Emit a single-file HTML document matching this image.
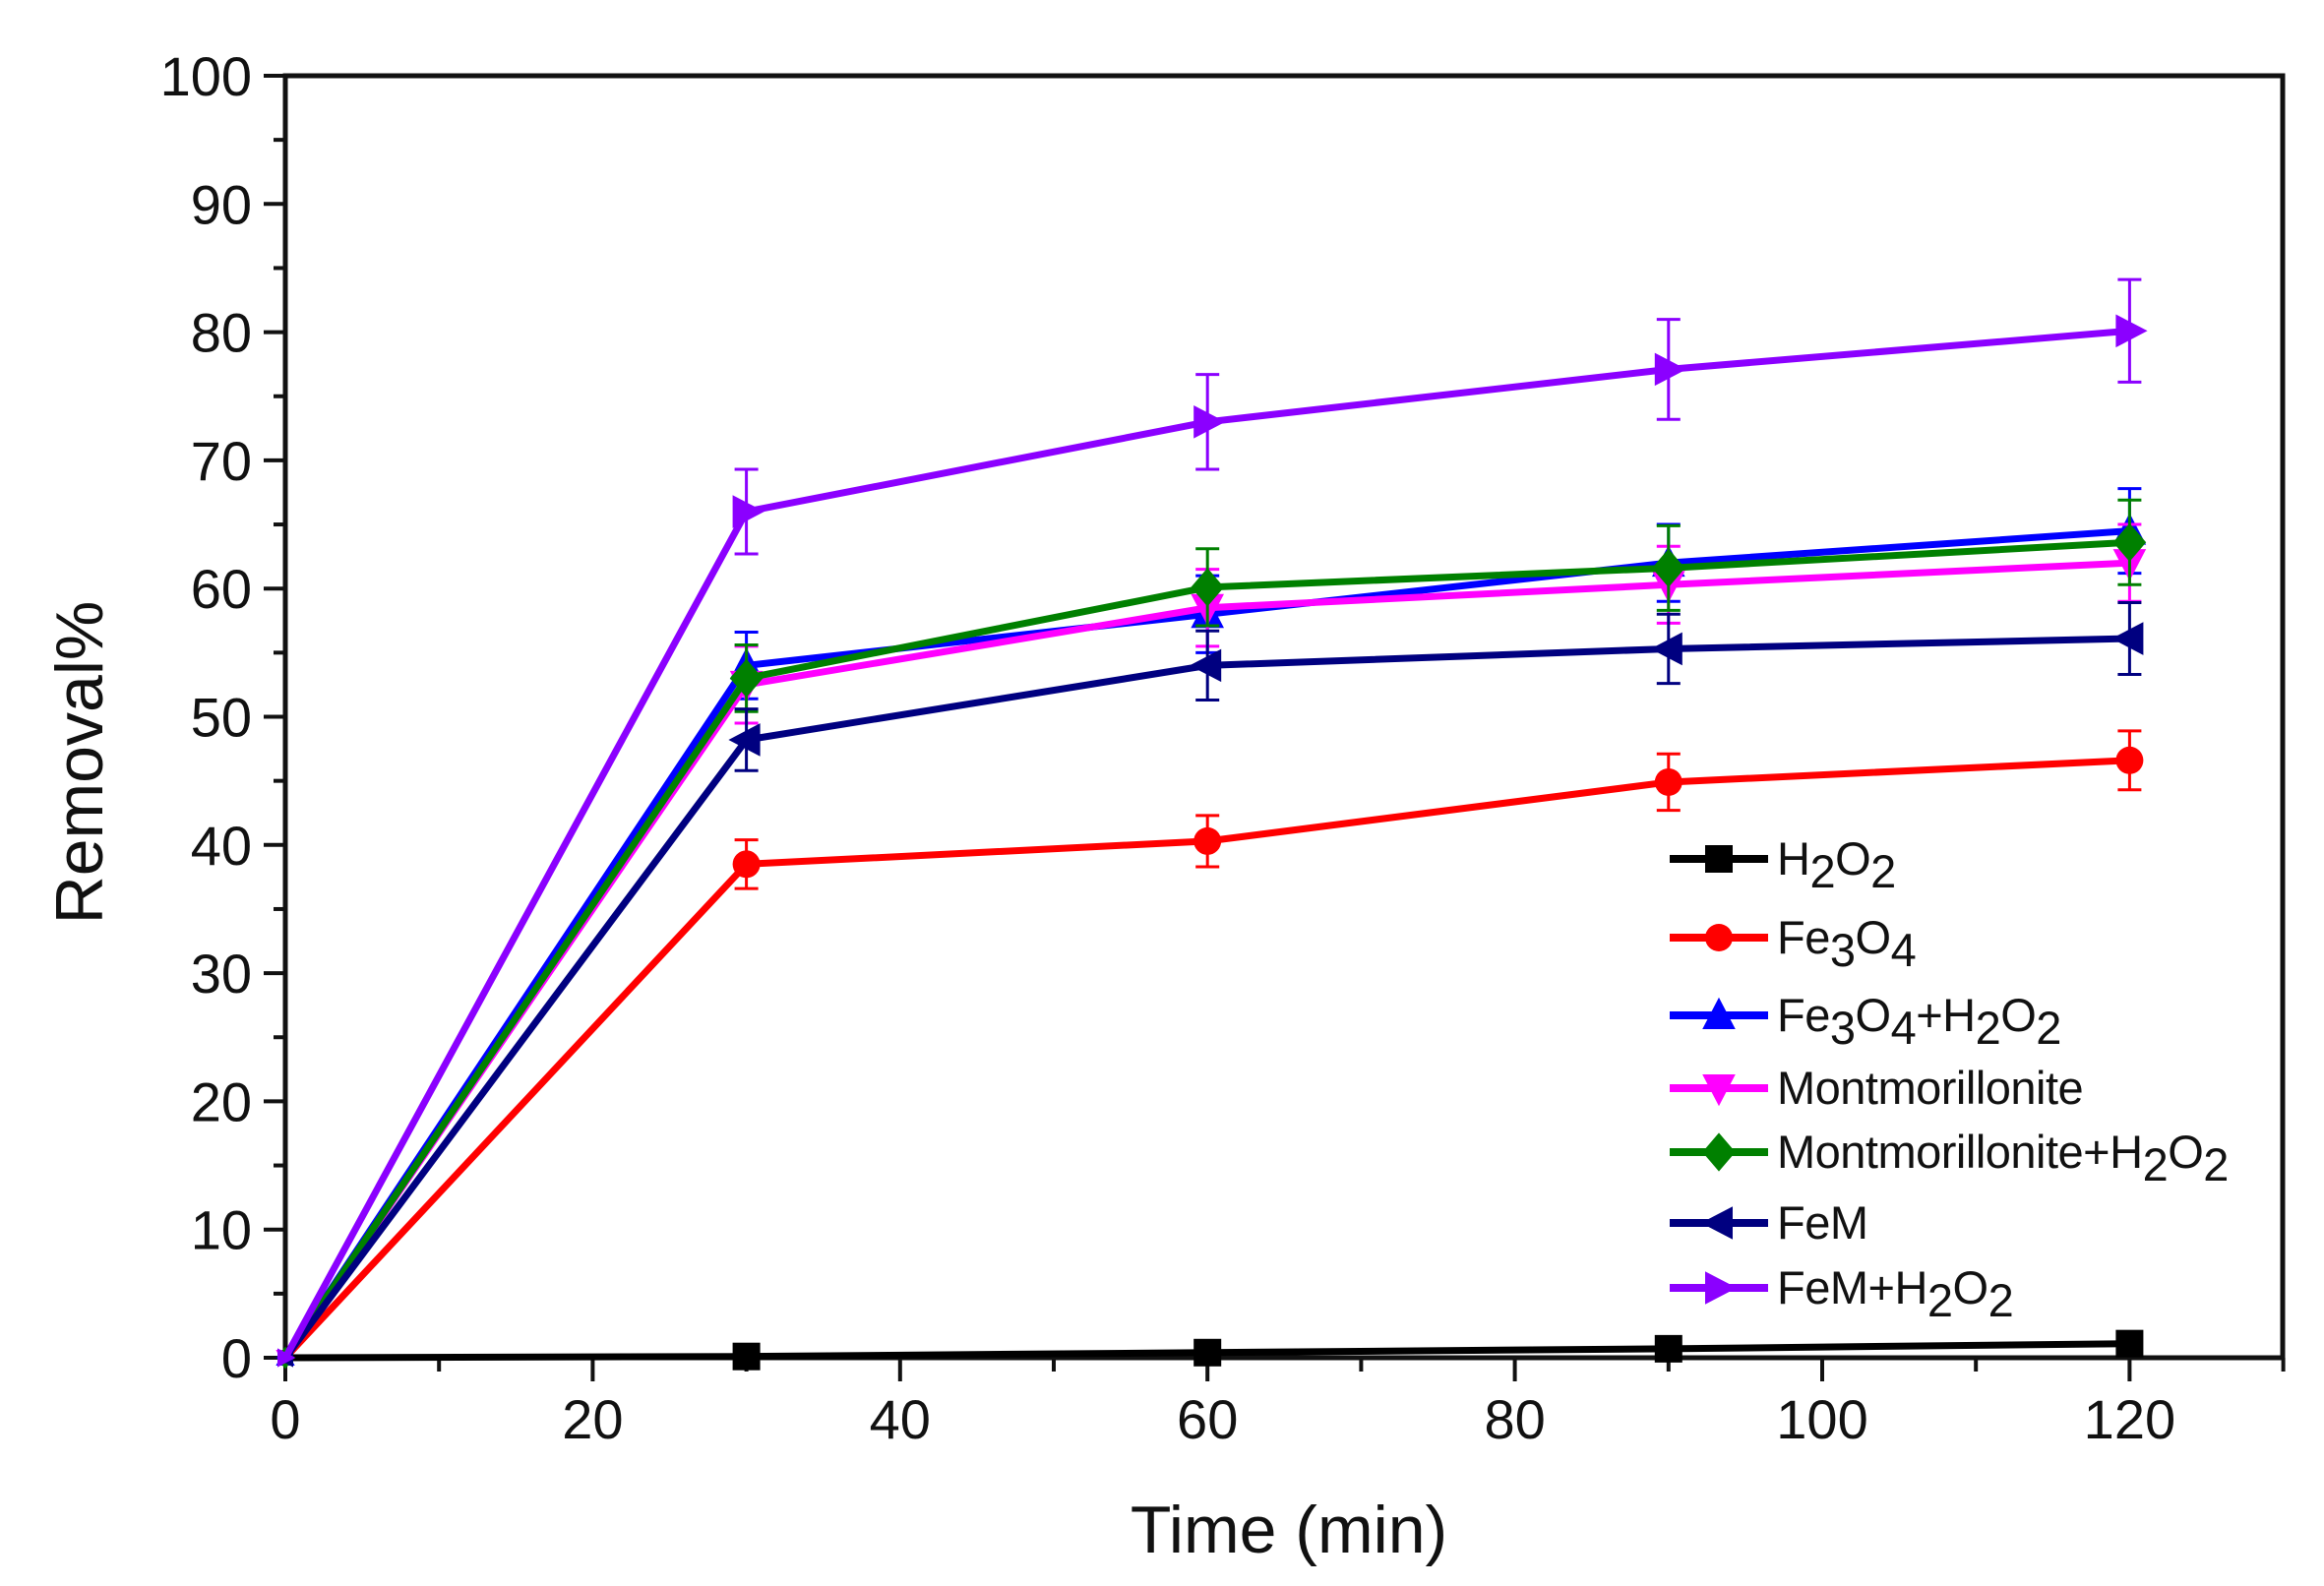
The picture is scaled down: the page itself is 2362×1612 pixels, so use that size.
<!DOCTYPE html>
<html><head><meta charset="utf-8"><style>
html,body{margin:0;padding:0;background:#fff;}
svg{display:block;font-family:"Liberation Sans",Arial,sans-serif;}
</style></head><body>
<svg id="s" width="2362" height="1612" viewBox="0 0 2362 1612" xmlns="http://www.w3.org/2000/svg">
<rect width="2362" height="1612" fill="#fff"/>
<g id="ax"></g><g id="dat"></g><g id="leg"></g>
<text x="1310" y="1578" font-size="68" text-anchor="middle" fill="#111">Time (min)</text>
<text transform="translate(104,775) rotate(-90)" font-size="68" text-anchor="middle" fill="#111">Removal%</text>
</svg>
<script>
var NS="http://www.w3.org/2000/svg";
function el(p,t,a,txt){var e=document.createElementNS(NS,t);for(var k in a)e.setAttribute(k,a[k]);if(txt!==undefined)e.textContent=txt;p.appendChild(e);return e;}
var X0=290,XS=15.62,Y0=1380,YS=13.03,XR=2320,YT=77;
function X(v){return X0+v*XS;}function Y(v){return Y0-v*YS;}
var ax=document.getElementById('ax');
el(ax,'rect',{x:X0,y:YT,width:XR-X0,height:Y0-YT,fill:'none',stroke:'#111','stroke-width':5});
for(var v=0;v<=100;v+=5){var y=Y(v);var maj=v%10==0;el(ax,'line',{x1:X0-(maj?22:12),x2:X0,y1:y,y2:y,stroke:'#111','stroke-width':4});
 if(maj)el(ax,'text',{x:X0-34,y:y+20,'font-size':56,'text-anchor':'end',fill:'#111'},String(v));}
for(var v=0;v<=130;v+=10){var x=X(v);var maj=v%20==0;el(ax,'line',{x1:x,x2:x,y1:Y0,y2:Y0+(maj?24:14),stroke:'#111','stroke-width':4});
 if(maj&&v<=120)el(ax,'text',{x:x,y:Y0+82,'font-size':56,'text-anchor':'middle',fill:'#111'},String(v));}
var T=[0,30,60,90,120];
var S=[
 {c:'#000',m:'sq',v:[0,0.1,0.4,0.7,1.1],e:[0,0,0,0,0]},
 {c:'#ff0000',m:'ci',v:[0,38.5,40.3,44.9,46.6],e:[0,1.9,2,2.2,2.3]},
 {c:'#0000ff',m:'tu',v:[0,54,58,62,64.5],e:[0,2.6,3,3,3.3]},
 {c:'#ff00ff',m:'td',v:[0,52.5,58.5,60.3,62],e:[0,3,3,3,3]},
 {c:'#008000',m:'di',v:[0,53,60.1,61.6,63.6],e:[0,2.6,3,3.3,3.3]},
 {c:'#000080',m:'tl',v:[0,48.2,54,55.3,56.1],e:[0,2.4,2.7,2.7,2.8]},
 {c:'#8b00ff',m:'tr',v:[0,66,73,77.1,80.1],e:[0,3.3,3.7,3.9,4]}
];
function mk(g,m,x,y,c,r){r=r||13;
 if(m=='sq')el(g,'rect',{x:x-r,y:y-r,width:2*r,height:2*r,fill:c});
 else if(m=='ci')el(g,'circle',{cx:x,cy:y,r:r,fill:c});
 else{var p;
  if(m=='tu')p=[[x,y-r*1.3],[x+r*1.2,y+r],[x-r*1.2,y+r]];
  if(m=='td')p=[[x,y+r*1.3],[x+r*1.2,y-r],[x-r*1.2,y-r]];
  if(m=='tl')p=[[x-r*1.3,y],[x+r,y-r*1.2],[x+r,y+r*1.2]];
  if(m=='tr')p=[[x+r*1.3,y],[x-r,y-r*1.2],[x-r,y+r*1.2]];
  if(m=='di')p=[[x,y-r*1.4],[x+r*1.2,y],[x,y+r*1.4],[x-r*1.2,y]];
  el(g,'polygon',{points:p.map(function(q){return q.join(',')}).join(' '),fill:c});}}
var d=document.getElementById('dat');
S.forEach(function(s){
 var pts=T.map(function(t,i){return X(t)+','+Y(s.v[i]);}).join(' ');
 for(var i=1;i<5;i++){if(!s.e[i])continue;var x=X(T[i]),a=Y(s.v[i]+s.e[i]),b=Y(s.v[i]-s.e[i]);
  el(d,'line',{x1:x,x2:x,y1:a,y2:b,stroke:s.c,'stroke-width':3});
  el(d,'line',{x1:x-12,x2:x+12,y1:a,y2:a,stroke:s.c,'stroke-width':3});
  el(d,'line',{x1:x-12,x2:x+12,y1:b,y2:b,stroke:s.c,'stroke-width':3});}
 el(d,'polyline',{points:pts,fill:'none',stroke:s.c,'stroke-width':7,'stroke-linejoin':'round'});
 for(var i=0;i<5;i++)mk(d,s.m,X(T[i]),Y(s.v[i]),s.c,i==0?8:14);
});
var L=document.getElementById('leg');
var names=[['H',['2'],'O',['2']],['Fe',['3'],'O',['4']],['Fe',['3'],'O',['4'],'+H',['2'],'O',['2']],['Montmorillonite'],['Montmorillonite+H',['2'],'O',['2']],['FeM'],['FeM+H',['2'],'O',['2']]];
var ly=[873,953,1032,1106,1171,1243,1309];
S.forEach(function(s,i){var y=ly[i];
 el(L,'line',{x1:1697,x2:1797,y1:y,y2:y,stroke:s.c,'stroke-width':8});
 mk(L,s.m,1747,y,s.c,14);
 var t=el(L,'text',{x:1806,y:y+16,'font-size':47,fill:'#111','letter-spacing':'-0.5'});
 names[i].forEach(function(p){if(typeof p=='string')el(t,'tspan',{},p);else{el(t,'tspan',{dy:13,'font-size':47},p[0]);el(t,'tspan',{dy:-13},'\u200b');}});
});
</script>
</body></html>
